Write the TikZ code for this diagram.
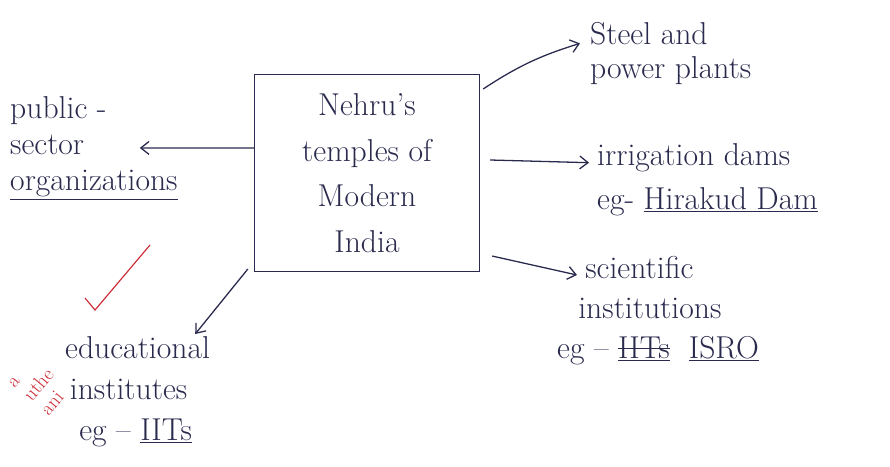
\documentclass[tikz,border=0pt]{standalone}
\usetikzlibrary{positioning,arrows.meta}

\definecolor{ink}{RGB}{42,42,78}
\definecolor{redink}{RGB}{205,45,55}

% crossed-out word
\newcommand{\struckword}[1]{\setbox0\hbox{#1}\rlap{\rule[0.3em]{\wd0}{0.8pt}}\box0}

\tikzset{
  handtext/.style={text=ink, align=left, inner sep=0pt, font=\fontsize{27}{#1}\selectfont},
  handtext/.default=31pt,
  inkarrow/.style={draw=ink, line width=1.1pt, -{Straight Barb[length=7pt,width=11pt]}},
}

\begin{document}
\begin{tikzpicture}[x=0.03cm, y=-0.03cm]
    % Page size of the reference
    \useasboundingbox (0,0) rectangle (890,466);

    % Central box
    \node[draw=ink, line width=1.2pt, minimum width=6.75cm, minimum height=5.9cm,
          align=center, text=ink, font=\fontsize{27}{39}\selectfont] (temples) at (367,173)
        {Nehru's\\ temples of\\ Modern\\ India};

    % Branches around the box
    \node[handtext, anchor=north west] (pso) at (10,96)
        {public -\\ sector\\ \underline{organizations}};
    \node[handtext={29pt}, anchor=north west] (steel) at (590,22)
        {Steel and\\ power plants};
    \node[handtext={38pt}, anchor=north west] (dams) at (597,143)
        {irrigation dams\\ eg- \underline{Hirakud Dam}};
    \node[handtext={34pt}, anchor=north west] (science) at (557,256)
        {\hspace{24pt}scientific\\ \hspace{18pt}institutions\\ eg -- \underline{\struckword{IITs}}\ \ \underline{ISRO}};
    \node[handtext={35pt}, anchor=north west] (edu) at (65,336)
        {educational\\ \hspace{4pt}institutes\\ \hspace{12pt}eg -- \underline{IITs}};

    % Arrows out of the box
    \draw[inkarrow] ([shift={(0,-25)}]temples.west) -- ([shift={(-38,0)}]pso.east);
    \draw[inkarrow] ([shift={(3,15)}]temples.north east) to[bend left=8] ([shift={(-10,-10)}]steel.west);
    \draw[inkarrow] ([shift={(10,-13)}]temples.east) -- ([shift={(-8,-17)}]dams.west);
    \draw[inkarrow] ([shift={(12,-16)}]temples.south east) -- ([shift={(20,19)}]science.north west);
    \draw[inkarrow] ([shift={(-6,-3)}]temples.south west) -- ([shift={(-15,-2)}]edu.north east);

    % Marker's red tick and note
    \draw[redink, line width=1pt] (85,298) -- (95,310) -- (150,245);
    \node[text=redink, rotate=50, align=left, inner sep=0pt,
          font=\fontsize{17}{19}\selectfont] (note) at (40,386) {a\\ uthe\\ ani};
\end{tikzpicture}
\end{document}
